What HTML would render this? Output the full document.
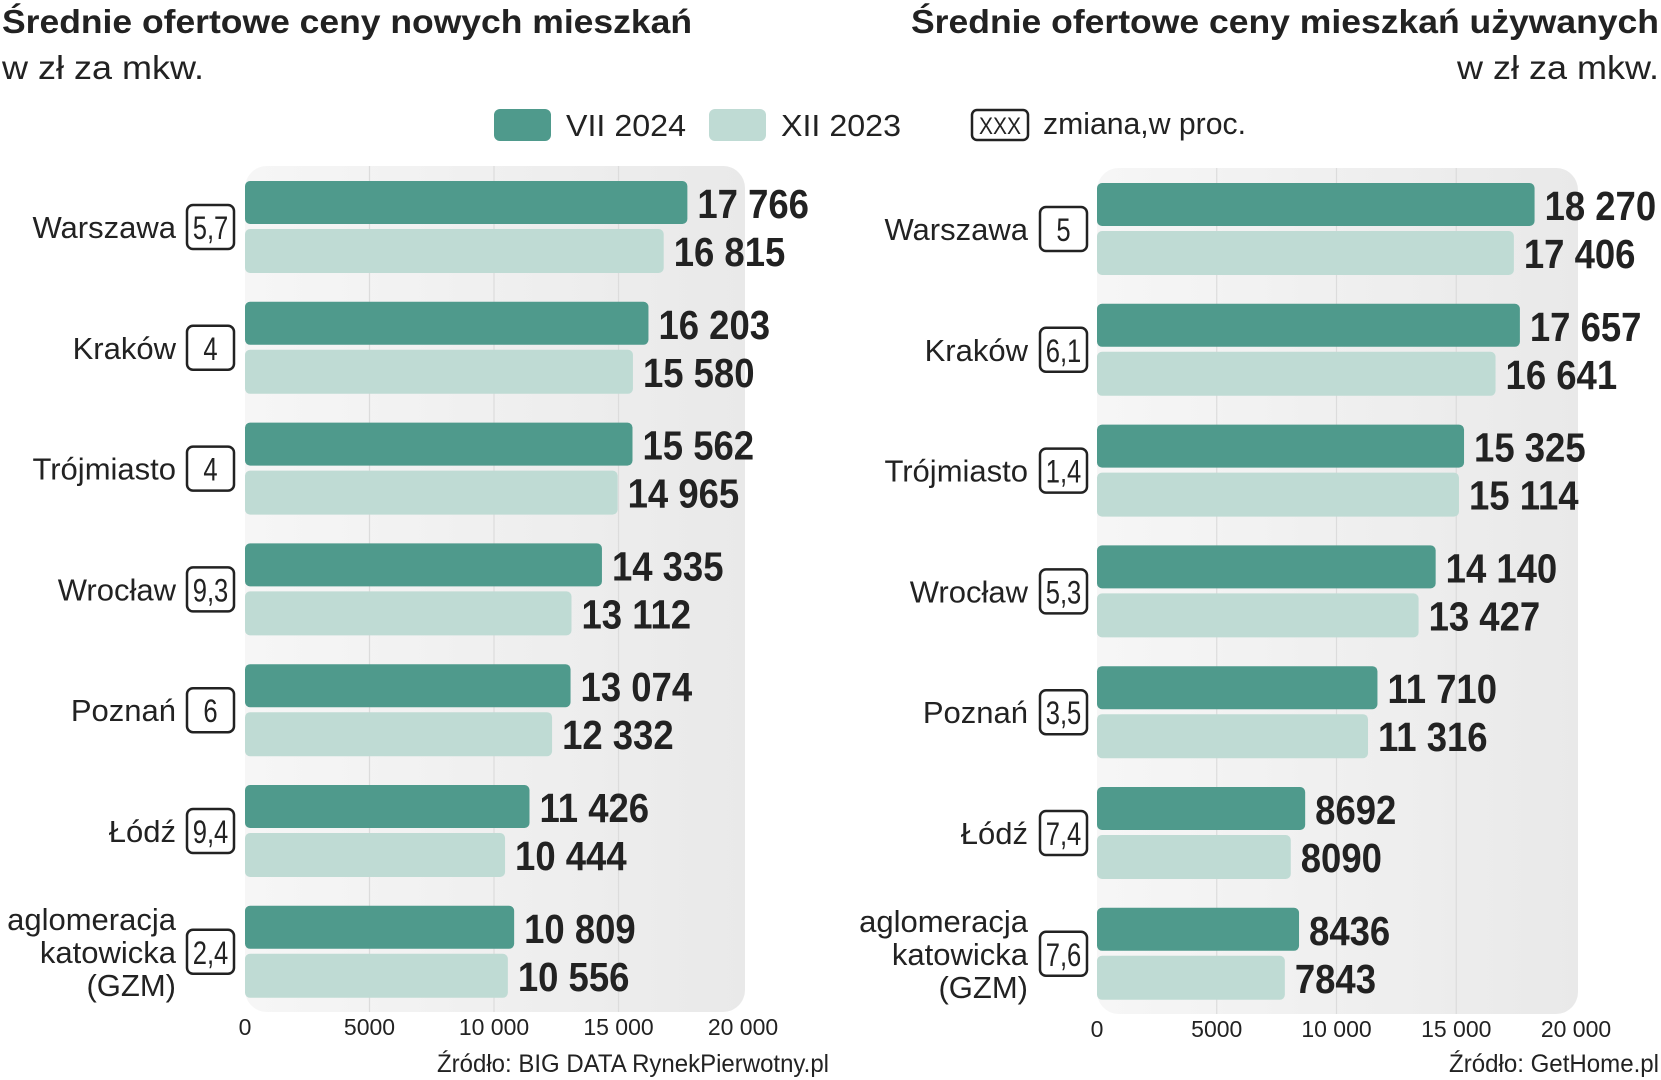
<!DOCTYPE html>
<html><head><meta charset="utf-8"><style>
body{margin:0;background:#fff;width:1661px;height:1080px;overflow:hidden;font-family:"Liberation Sans",sans-serif;color:#222}
svg{display:block}
.t{font-family:"Liberation Sans",sans-serif;fill:#222}
.v{font-family:"Liberation Sans Narrow","Liberation Sans",sans-serif;font-weight:bold;fill:#222}
</style></head><body>
<svg id="c" width="1661" height="1080" viewBox="0 0 1661 1080">
<defs><linearGradient id="pg" x1="0" x2="1" y1="0" y2="0"><stop offset="0" stop-color="#f6f6f6"/><stop offset="1" stop-color="#e9e9e9"/></linearGradient></defs>
<text class="t" x="2" y="33" font-size="33" font-weight="bold" textLength="690" lengthAdjust="spacingAndGlyphs">Średnie ofertowe ceny nowych mieszkań</text>
<text class="t" x="2" y="79" font-size="33" textLength="202" lengthAdjust="spacingAndGlyphs">w zł za mkw.</text>
<text class="t" x="911" y="33" font-size="33" font-weight="bold" textLength="748" lengthAdjust="spacingAndGlyphs">Średnie ofertowe ceny mieszkań używanych</text>
<text class="t" x="1457" y="79" font-size="33" textLength="202" lengthAdjust="spacingAndGlyphs">w zł za mkw.</text>
<g>
<rect x="494" y="109" width="57" height="32" rx="6" fill="#4f9a8c"/>
<text class="t" x="566" y="136" font-size="31" textLength="120" lengthAdjust="spacingAndGlyphs">VII 2024</text>
<rect x="709" y="109" width="57" height="32" rx="6" fill="#bfdbd4"/>
<text class="t" x="781" y="136" font-size="31" textLength="120" lengthAdjust="spacingAndGlyphs">XII 2023</text>
<rect x="972" y="110" width="56" height="30" rx="5" fill="none" stroke="#222" stroke-width="2.5"/>
<text class="t" x="1000" y="134" font-size="24" text-anchor="middle" textLength="42" lengthAdjust="spacingAndGlyphs">XXX</text>
<text class="t" x="1043" y="134" font-size="31" textLength="203" lengthAdjust="spacingAndGlyphs">zmiana,w proc.</text>
</g>
</svg>
<script>
const catsL=["Warszawa","Kraków","Trójmiasto","Wrocław","Poznań","Łódź","aglomeracja\nkatowicka\n(GZM)"];
const newL=[17766,16203,15562,14335,13074,11426,10809];
const oldL=[16815,15580,14965,13112,12332,10444,10556];
const chgL=["5,7","4","4","9,3","6","9,4","2,4"];
const catsR=["Warszawa","Kraków","Trójmiasto","Wrocław","Poznań","Łódź","aglomeracja\nkatowicka\n(GZM)"];
const newR=[18270,17657,15325,14140,11710,8692,8436];
const oldR=[17406,16641,15114,13427,11316,8090,7843];
const chgR=["5","6,1","1,4","5,3","3,5","7,4","7,6"];
const ticks=[0,5000,10000,15000,20000];
const tickLabels=["0","5000","10 000","15 000","20 000"];
const svg=document.getElementById('c');const NS="http://www.w3.org/2000/svg";
function mk(t,a,p){const e=document.createElementNS(NS,t);for(const k in a)e.setAttribute(k,a[k]);(p||svg).appendChild(e);return e;}
function fmt(v){return v>=10000?String(v).replace(/(\d+)(\d{3})$/,"$1 $2"):String(v);}
function chart(side,cats,nv,ov,ch,x0,x1,top,labelRight,boxX,source){
  const g=mk('g',{});
  
  
  const sx=v=>x0+(x1-x0)*v/20000;
  const pb=mk('rect',{x:x0,y:top-15,width:x1-x0+2,height:846,rx:22,fill:'url(#pg)'},g);
  
  
  ticks.forEach((t,i)=>{
    if(i>0&&i<4){const l=mk('line',{x1:sx(t),x2:sx(t),y1:top-15,y2:top+831,stroke:'#dcdcdc','stroke-width':1.2},g);
    
    }
    const tl=mk('text',{x:sx(t),y:top+854,'font-size':23,'text-anchor':'middle',class:'t'},g);tl.textContent=tickLabels[i];
    
    
  });
  const step=120.8;
  cats.forEach((c,i)=>{
    const y=top+i*step;
    const b1=mk('rect',{x:x0,y:y,width:sx(nv[i])-x0,height:43,rx:5,fill:'#4f9a8c'},g);
    
    
    const b2=mk('rect',{x:x0,y:y+48,width:sx(ov[i])-x0,height:44,rx:5,fill:'#bfdbd4'},g);
    
    
    const t1=mk('text',{x:0,y:0,'font-size':41,class:'v',transform:`translate(${sx(nv[i])+10},${y+37}) scale(0.89,1)`},g);t1.textContent=fmt(nv[i]);
    
    
    const t2=mk('text',{x:0,y:0,'font-size':41,class:'v',transform:`translate(${sx(ov[i])+10},${y+85}) scale(0.89,1)`},g);t2.textContent=fmt(ov[i]);
    
    
    const lines=c.split('\n');const cy=y+46;
    lines.forEach((ln,j)=>{
      const tt=mk('text',{x:labelRight,y:cy+11+(j-(lines.length-1)/2)*33,'font-size':31,'text-anchor':'end',class:'t'},g);tt.textContent=ln;
      
      
    });
    const bx=mk('rect',{x:boxX,y:cy-22,width:47,height:44,rx:6,fill:'#fff',stroke:'#222','stroke-width':2.5},g);
    
    
    const bt=mk('text',{x:0,y:0,'font-size':32,'text-anchor':'middle',class:'t',transform:`translate(${boxX+23.5},${cy+12}) scale(0.8,1)`},g);bt.textContent=ch[i];
    
    
  });
  const s=mk('text',{x:source[0]-source[2],y:1072,'font-size':25,class:'t',textLength:source[2],lengthAdjust:'spacingAndGlyphs'},g);s.textContent=source[1];
  
  
}
chart('left',catsL,newL,oldL,chgL,245,743,181,176,187,[829,"Źródło: BIG DATA RynekPierwotny.pl",392]);
chart('right',catsR,newR,oldR,chgR,1097,1576,183,1028,1040,[1659,"Źródło: GetHome.pl",210]);
</script>
</body></html>
